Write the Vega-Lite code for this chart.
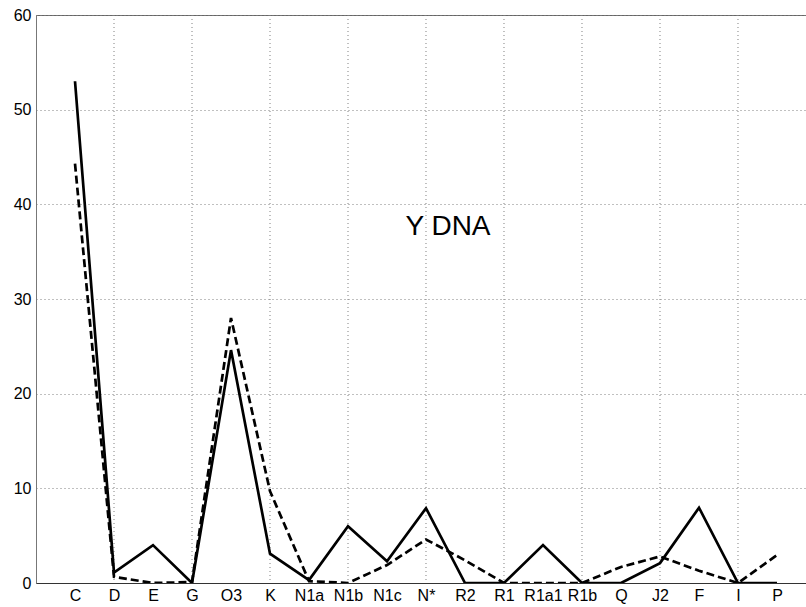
{
  "$schema": "https://vega.github.io/schema/vega-lite/v6.json",
  "width": 770,
  "height": 568,
  "autosize": "none",
  "padding": {"left": 36, "top": 15, "right": 0, "bottom": 24},
  "background": "white",
  "config": {
    "view": {"stroke": "#666", "strokeWidth": 1},
    "font": "Liberation Sans",
    "axis": {"labelFont": "Liberation Sans", "labelColor": "black", "titleFont": "Liberation Sans"},
    "axisX": {"grid": false},
    "axisDiscrete": {"grid": false}
  },
  "datasets": {
    "solid": [
      {"hg": "C", "pct": 53.0},
      {"hg": "D", "pct": 1.1},
      {"hg": "E", "pct": 4.0},
      {"hg": "G", "pct": 0.0},
      {"hg": "O3", "pct": 24.6},
      {"hg": "K", "pct": 3.1},
      {"hg": "N1a", "pct": 0.3},
      {"hg": "N1b", "pct": 6.0},
      {"hg": "N1c", "pct": 2.3},
      {"hg": "N*", "pct": 7.9},
      {"hg": "R2", "pct": 0.0},
      {"hg": "R1", "pct": 0.0},
      {"hg": "R1a1", "pct": 4.0},
      {"hg": "R1b", "pct": 0.0},
      {"hg": "Q", "pct": 0.0},
      {"hg": "J2", "pct": 2.1},
      {"hg": "F", "pct": 7.95},
      {"hg": "I", "pct": 0.0},
      {"hg": "P", "pct": 0.0}
    ],
    "dashed": [
      {"hg": "C", "pct": 44.3},
      {"hg": "D", "pct": 0.65},
      {"hg": "E", "pct": 0.0},
      {"hg": "G", "pct": 0.1},
      {"hg": "O3", "pct": 28.0},
      {"hg": "K", "pct": 9.7},
      {"hg": "N1a", "pct": 0.2},
      {"hg": "N1b", "pct": 0.0},
      {"hg": "N1c", "pct": 1.9},
      {"hg": "N*", "pct": 4.6},
      {"hg": "R2", "pct": 2.4},
      {"hg": "R1", "pct": 0.0},
      {"hg": "R1a1", "pct": 0.0},
      {"hg": "R1b", "pct": 0.0},
      {"hg": "Q", "pct": 1.7},
      {"hg": "J2", "pct": 2.8},
      {"hg": "F", "pct": 1.3},
      {"hg": "I", "pct": 0.0},
      {"hg": "P", "pct": 2.95}
    ],
    "gridcats": [
      {"hg": "D"}, {"hg": "G"}, {"hg": "K"}, {"hg": "N1b"}, {"hg": "N*"},
      {"hg": "R1"}, {"hg": "R1b"}, {"hg": "J2"}, {"hg": "I"}
    ],
    "note": [{"label": "Y DNA", "hg": "N*", "pct": 37.6}]
  },
  "layer": [
    {
      "data": {"name": "gridcats"},
      "mark": {"type": "rule", "color": "#808080", "strokeWidth": 1, "strokeDash": [1, 3]},
      "encoding": {
        "x": {
          "field": "hg",
          "type": "ordinal",
          "sort": ["C", "D", "E", "G", "O3", "K", "N1a", "N1b", "N1c", "N*", "R2", "R1", "R1a1", "R1b", "Q", "J2", "F", "I", "P"],
          "scale": {"type": "point", "padding": 0.872, "align": 0.5735},
          "axis": {
            "title": null,
            "labelAngle": 0,
            "labelFontSize": 16,
            "labelPadding": 4,
            "ticks": false,
            "grid": false,
            "domainColor": "#333"
          }
        }
      }
    },
    {
      "data": {"name": "solid"},
      "mark": {"type": "line", "color": "black", "strokeWidth": 2.7, "clip": true},
      "encoding": {
        "x": {
          "field": "hg",
          "type": "ordinal",
          "sort": ["C", "D", "E", "G", "O3", "K", "N1a", "N1b", "N1c", "N*", "R2", "R1", "R1a1", "R1b", "Q", "J2", "F", "I", "P"],
          "axis": {
            "title": null,
            "labelAngle": 0,
            "labelFontSize": 16,
            "labelPadding": 4,
            "ticks": false,
            "grid": false,
            "domainColor": "#333"
          }
        },
        "y": {
          "field": "pct",
          "type": "quantitative",
          "scale": {"domain": [0, 60], "nice": false},
          "axis": {
            "title": null,
            "values": [0, 10, 20, 30, 40, 50, 60],
            "labelFontSize": 16,
            "labelPadding": 5,
            "ticks": false,
            "grid": true,
            "gridDash": [1, 3],
            "gridColor": "#808080",
            "domainColor": "#777"
          }
        }
      }
    },
    {
      "data": {"name": "dashed"},
      "mark": {"type": "line", "color": "black", "strokeWidth": 2.7, "strokeDash": [8, 4], "clip": true},
      "encoding": {
        "x": {
          "field": "hg",
          "type": "ordinal",
          "sort": ["C", "D", "E", "G", "O3", "K", "N1a", "N1b", "N1c", "N*", "R2", "R1", "R1a1", "R1b", "Q", "J2", "F", "I", "P"]
        },
        "y": {"field": "pct", "type": "quantitative"}
      }
    },
    {
      "data": {"name": "note"},
      "mark": {"type": "text", "fontSize": 28, "font": "Liberation Sans", "color": "black", "align": "center", "baseline": "middle", "dx": 22},
      "encoding": {
        "x": {
          "field": "hg",
          "type": "ordinal",
          "sort": ["C", "D", "E", "G", "O3", "K", "N1a", "N1b", "N1c", "N*", "R2", "R1", "R1a1", "R1b", "Q", "J2", "F", "I", "P"]
        },
        "y": {"field": "pct", "type": "quantitative"},
        "text": {"field": "label"}
      }
    }
  ]
}
